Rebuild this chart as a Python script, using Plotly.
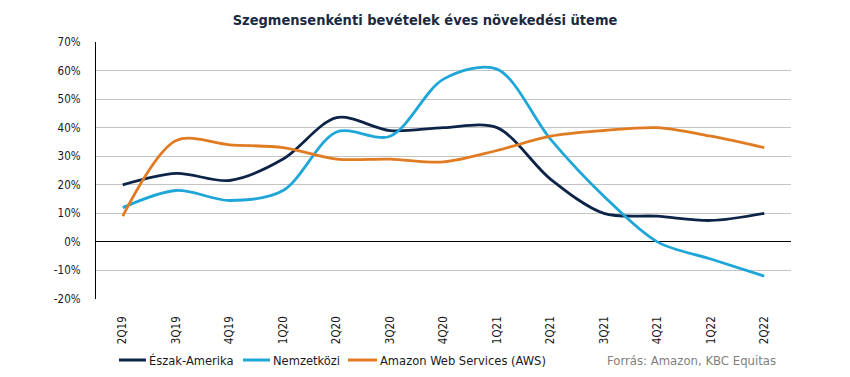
import plotly.graph_objects as go

categories = ["2Q19", "3Q19", "4Q19", "1Q20", "2Q20", "3Q20", "4Q20", "1Q21", "2Q21", "3Q21", "4Q21", "1Q22", "2Q22"]
north_america = [20, 24, 21.5, 29, 43.5, 39, 40, 40, 22, 10, 9, 7.5, 10]
international = [12, 18, 14.5, 18, 38.5, 37, 57, 60.5, 36, 16, 0, -6, -12]
aws = [9, 35.5, 34, 33, 29, 29, 28, 32, 37, 39, 40, 37, 33]
y_ticks = [-20, -10, 0, 10, 20, 30, 40, 50, 60, 70]
series_names = ["Észak-Amerika", "Nemzetközi", "Amazon Web Services (AWS)"]
series_colors = ["#0d2448", "#1ea6d9", "#e07b22"]
source_text = "Forrás: Amazon, KBC Equitas"

font_family = "DejaVu Sans Condensed, DejaVu Sans, sans-serif"

fig = go.Figure()
for name, vals, col in zip(series_names, [north_america, international, aws], series_colors):
    fig.add_trace(go.Scatter(
        x=categories, y=vals, name=name, mode="lines",
        line=dict(color=col, width=2.8, shape="spline", smoothing=0.9),
        showlegend=False,
    ))

fig.update_layout(
    width=850, height=377,
    margin=dict(l=96, r=59, t=42, b=78, autoexpand=False),
    paper_bgcolor="white", plot_bgcolor="white",
    font=dict(family=font_family, size=11, color="#1a1a1a"),
    title=dict(text="<b>Szegmensenkénti bevételek éves növekedési üteme</b>",
               x=0.5, xanchor="center", y=0.947, yanchor="middle",
               font=dict(size=14.5, color="#1a2a40", family=font_family)),
    xaxis=dict(type="category", range=[-0.5, len(categories) - 0.5],
               tickangle=-90, showgrid=False, ticks="", automargin=False,
               showline=False, ticklabelstandoff=14,
               tickfont=dict(size=11.5, color="#1a1a1a")),
    yaxis=dict(range=[-20, 70], tickvals=y_ticks, automargin=False,
               ticktext=[f"{v}%" for v in y_ticks],
               showgrid=True, gridcolor="#c4c4c4", gridwidth=1,
               zeroline=True, zerolinecolor="black", zerolinewidth=1.2,
               showline=True, linecolor="black", linewidth=1.2,
               ticks="", ticklabelstandoff=12,
               tickfont=dict(size=11.5, color="#1a1a1a")),
    showlegend=False,
)

# manual legend (short line samples like the reference)
legend_y = -0.2374
sample_x = [(0.0331, 0.0719), (0.2115, 0.2504), (0.3626, 0.4043)]
for (x0, x1), name, col in zip(sample_x, series_names, series_colors):
    fig.add_shape(type="line", xref="paper", yref="paper", x0=x0, x1=x1,
                  y0=legend_y, y1=legend_y, line=dict(color=col, width=3))
    fig.add_annotation(text=name, xref="paper", yref="paper", x=x1 + 0.002, y=legend_y,
                       xanchor="left", yanchor="middle", showarrow=False,
                       font=dict(size=12.8, color="#1a1a1a", family=font_family))

fig.add_annotation(text=source_text, xref="paper", yref="paper",
                   x=0.9813, y=legend_y, xanchor="right", yanchor="middle", showarrow=False,
                   font=dict(size=13, color="#808080", family=font_family))

fig.write_html("out.html",
               config={"displayModeBar": False},
               post_script="document.body.style.margin='0';document.body.style.padding='0';")
